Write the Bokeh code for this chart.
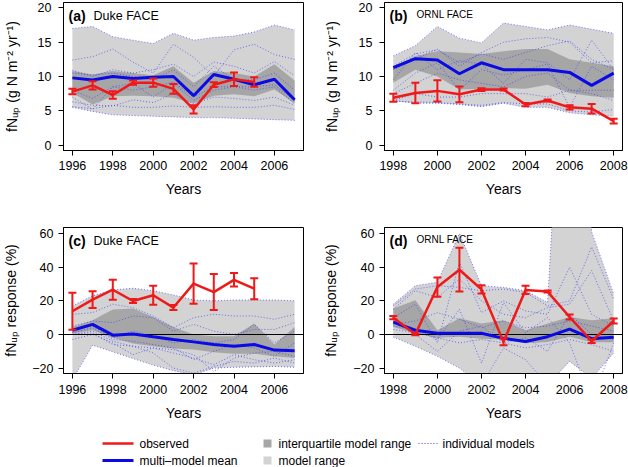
from bokeh.plotting import figure
from bokeh.layouts import column, row
from bokeh.models import Range1d, FixedTicker, Label
from bokeh.core.properties import value
from bokeh.embed import file_html
from bokeh.resources import INLINE

# ---------------- data ----------------
years_duke = [1996, 1997, 1998, 1999, 2000, 2001, 2002, 2003, 2004, 2005, 2006, 2007]
years_ornl = [1998, 1999, 2000, 2001, 2002, 2003, 2004, 2005, 2006, 2007, 2008]
obs_years_duke = [1996, 1997, 1998, 1999, 2000, 2001, 2002, 2003, 2004, 2005]
obs_years_ornl = years_ornl

ticks_duke = [1996, 1998, 2000, 2002, 2004, 2006]
ticks_ornl = [1998, 2000, 2002, 2004, 2006, 2008]
ticks_abs = [0, 5, 10, 15, 20]
ticks_resp = [-20, 0, 20, 40, 60]

# (a) Duke FACE, fNup
a_obs = [7.8, 8.7, 7.3, 9.1, 9.1, 8.2, 5.2, 8.8, 9.6, 9.2]
a_err = [0.4, 0.6, 0.55, 0.3, 0.6, 0.7, 0.6, 0.35, 1.0, 0.7]
a_mean = [9.8, 9.5, 10.0, 9.7, 9.9, 10.0, 7.2, 10.3, 9.6, 8.8, 9.6, 6.6]
a_iqr_lo = [7.6, 5.9, 7.1, 7.2, 7.1, 6.9, 6.1, 7.2, 7.4, 7.1, 8.1, 6.1]
a_iqr_hi = [10.8, 10.3, 10.8, 10.5, 10.2, 11.5, 9.1, 10.8, 10.5, 10.0, 11.8, 9.4]
a_rng_lo = [5.5, 4.9, 4.4, 4.3, 4.2, 4.1, 4.0, 4.0, 3.9, 3.8, 3.7, 3.6]
a_rng_hi = [17.0, 17.3, 15.8, 15.3, 14.8, 16.3, 15.3, 15.7, 15.9, 16.5, 17.5, 16.8]
a_m1 = [17.0, 17.3, 15.8, 15.3, 14.8, 16.3, 15.3, 15.7, 15.9, 16.5, 17.5, 16.8]
a_m2 = [12.4, 12.9, 14.0, 12.1, 10.5, 14.7, 12.8, 10.0, 13.9, 14.7, 13.2, 12.5]
a_m3 = [10.9, 10.0, 11.0, 10.5, 11.0, 11.8, 10.0, 12.1, 11.5, 10.5, 12.2, 10.1]
a_m4 = [10.5, 10.2, 10.5, 10.0, 9.5, 11.0, 8.5, 11.5, 9.5, 9.5, 10.5, 8.0]
a_m5 = [8.0, 6.8, 8.5, 8.0, 8.5, 9.2, 7.0, 8.5, 8.5, 8.0, 8.5, 6.0]
a_m6 = [7.0, 5.2, 8.5, 9.0, 7.0, 9.0, 6.5, 8.0, 8.5, 8.5, 8.8, 6.5]
a_m7 = [6.3, 5.8, 5.7, 6.6, 6.2, 7.5, 6.0, 7.0, 6.8, 6.5, 7.0, 5.8]
a_m8 = [5.6, 5.3, 5.8, 5.5, 5.5, 5.7, 5.5, 5.6, 5.5, 5.5, 5.8, 5.2]
a_m9 = [5.5, 4.9, 4.4, 4.3, 4.2, 4.1, 4.0, 4.0, 3.9, 3.8, 3.7, 3.6]

# (b) ORNL FACE, fNup
b_obs = [6.9, 7.6, 7.9, 7.4, 8.1, 8.1, 5.9, 6.5, 5.5, 5.3, 3.5]
b_err = [0.6, 1.5, 1.55, 1.15, 0.2, 0.15, 0.25, 0.15, 0.3, 0.7, 0.35]
b_mean = [11.3, 12.6, 12.4, 10.4, 12.0, 11.0, 11.0, 11.0, 10.6, 8.7, 10.5]
b_iqr_lo = [9.1, 11.0, 10.0, 8.1, 8.2, 8.3, 8.2, 8.8, 7.6, 7.1, 6.9]
b_iqr_hi = [11.5, 13.0, 13.7, 13.5, 13.3, 13.7, 14.0, 14.0, 12.5, 12.0, 11.5]
b_rng_lo = [6.4, 6.1, 6.1, 5.9, 5.6, 6.1, 5.5, 5.5, 4.7, 4.4, 4.2]
b_rng_hi = [13.0, 14.5, 17.3, 15.6, 14.9, 17.8, 17.3, 16.8, 17.5, 16.9, 16.3]
b_m1 = [13.0, 14.5, 17.3, 15.6, 14.9, 17.8, 17.3, 16.8, 17.5, 16.9, 16.3]
b_m2 = [11.5, 13.3, 13.9, 12.0, 13.3, 12.5, 13.5, 14.5, 15.2, 12.5, 11.0]
b_m3 = [11.0, 12.5, 14.0, 11.5, 13.5, 15.0, 15.5, 15.7, 15.0, 12.0, 12.3]
b_m4 = [9.5, 13.5, 11.0, 12.3, 11.8, 9.0, 12.5, 12.0, 9.5, 15.3, 11.0]
b_m5 = [8.0, 10.5, 12.0, 8.0, 11.0, 10.2, 11.0, 11.8, 5.5, 11.5, 9.5]
b_m6 = [7.5, 9.0, 10.5, 9.5, 9.0, 8.5, 10.0, 10.5, 8.0, 8.0, 8.0]
b_m7 = [6.5, 7.5, 7.0, 7.0, 7.5, 7.5, 7.5, 7.0, 8.0, 7.5, 6.5]
b_m8 = [6.4, 6.3, 6.2, 6.0, 5.8, 6.2, 6.0, 6.0, 5.0, 4.8, 5.2]
b_m9 = [6.5, 6.1, 6.1, 5.9, 5.6, 6.1, 5.5, 5.5, 4.7, 4.4, 4.2]

# (c) Duke FACE, fNup response (%)
c_obs = [13.8, 20.7, 26.6, 19.9, 23.3, 16.0, 30.2, 25.2, 32.5, 27.2]
c_err = [11.0, 5.0, 6.0, 1.2, 5.7, 1.5, 12.0, 10.7, 4.0, 6.2]
c_mean = [2.5, 6.0, -0.4, 0.3, -1.4, -3.0, -4.4, -6.0, -7.0, -6.0, -9.3, -9.7]
c_iqr_lo = [0.5, 2.5, -2.0, -5.4, -7.0, -8.4, -9.0, -10.5, -11.5, -11.5, -13.0, -14.0]
c_iqr_hi = [4.5, 8.4, 14.8, 15.4, 10.4, 4.5, 0.0, -1.0, -1.0, 6.5, -6.0, 4.5]
c_rng_lo = [-27.0, -6.4, -10.3, -14.3, -18.2, -21.5, -24.0, -20.0, -19.5, -19.3, -19.0, -19.5]
c_rng_hi = [17.0, 23.0, 26.5, 27.5, 26.0, 23.5, 20.5, 20.0, 20.5, 20.5, 20.5, 20.0]
c_m1 = [17.0, 23.0, 26.5, 27.5, 26.0, 23.5, 20.5, 20.0, 20.5, 20.5, 20.5, 20.0]
c_m2 = [12.0, 13.0, 18.0, 16.0, 11.0, 4.0, 10.0, 12.0, 11.0, 11.0, 9.0, 12.0]
c_m3 = [5.0, 8.0, 7.0, 11.0, 10.0, 2.0, 6.0, 2.0, 0.0, 3.0, 3.0, 7.0]
c_m4 = [3.0, 5.0, -2.0, 2.0, -1.0, -5.0, -3.0, -5.0, -3.0, 6.0, -5.0, 2.0]
c_m5 = [1.0, 4.0, -3.0, -4.0, -6.0, -8.0, -15.0, -10.0, -6.0, -8.0, -13.0, -5.0]
c_m6 = [0.0, 2.0, -4.0, -7.0, -8.0, -9.0, -12.0, -22.0, -14.0, -11.0, -10.0, -13.0]
c_m7 = [-3.0, 0.0, -5.0, -12.0, -8.0, -11.0, -14.0, -18.0, -12.0, -15.0, -17.0, -15.0]
c_m8 = [-27.0, -6.4, -10.3, -14.3, -18.2, -21.5, -24.0, -20.0, -19.5, -19.3, -19.0, -19.5]
c_m9 = [0.0, 1.0, -6.0, -7.0, -11.0, -20.0, -23.0, -19.0, -16.0, -17.0, -14.0, -17.0]

# (d) ORNL FACE, fNup response (%)
d_obs = [10.0, 0.1, 28.2, 38.5, 26.8, -4.4, 26.5, 25.5, 10.4, -4.0, 8.0]
d_err = [1.0, 0.5, 5.7, 13.0, 2.5, 2.0, 2.5, 0.6, 1.5, 1.0, 1.5]
d_mean = [7.4, 2.5, 0.7, 0.7, 0.7, -2.3, -4.2, -1.3, 3.2, -2.5, -1.6]
d_iqr_lo = [4.5, 0.7, -2.0, -1.4, -2.5, -3.0, -5.2, -4.5, -1.3, -4.6, -4.6]
d_iqr_hi = [15.5, 20.3, 2.5, 9.6, 6.6, 8.4, 2.5, 6.5, 10.4, 8.4, 9.6]
d_rng_lo = [-1.5, -7.0, -13.0, -20.0, -30.0, -30.0, -30.0, -30.0, -16.0, -26.0, -11.0]
d_rng_hi = [18.0, 29.0, 31.0, 60.0, 29.0, 28.0, 26.0, 19.0, 250.0, 61.0, 24.0]
d_m1 = [18.0, 29.0, 31.0, 60.0, 29.0, 28.0, 26.0, 19.0, 250.0, 61.0, 24.0]
d_m2 = [17.0, 27.0, 29.0, 28.0, 26.0, 27.0, 25.0, 17.0, 20.0, 52.0, 21.0]
d_m3 = [15.0, 26.0, 22.0, 33.0, 20.0, 12.0, 10.0, 16.0, 18.0, 38.0, 8.0]
d_m4 = [10.0, 18.0, -5.0, 43.0, 13.0, 20.0, 14.0, 12.0, 40.0, 12.0, 5.0]
d_m5 = [6.0, 8.0, 13.0, 9.0, 4.0, 8.0, 4.0, 5.0, 8.0, 5.0, 2.0]
d_m6 = [5.0, 3.0, -3.0, 15.0, -17.0, 19.0, 1.0, 10.0, -5.0, -40.0, -5.0]
d_m7 = [3.0, 1.0, -2.0, -5.0, -3.0, -5.0, -8.0, -6.0, -3.0, -6.0, -10.0]
d_m8 = [-1.5, -7.0, -13.0, -20.0, -30.0, -8.0, -15.0, -30.0, -16.0, -26.0, -11.0]
d_m9 = [8.0, 0.0, -10.0, 2.0, 5.0, -5.0, -2.0, -10.0, 12.0, 0.0, -3.0]

legend_labels = ["observed", "multi\u2013model mean", "interquartile model range",
                 "model range", "individual models"]

# ---------------- styles ----------------
FONT = "Liberation Sans"
RED = "#f01818"
BLUE = "#0a0ae6"
LIGHT = "#d3d3d3"
DARK = "#a6a6a6"
MODEL = "#4040ff"

YLAB_ABS = "fN\u1d64\u209a (g N m\u207b\u00b2 yr\u207b\u00b9)"
YLAB_RESP = "fN\u1d64\u209a response (%)"


def make_fig(width, height, xr, yr, mbl, mbr, mbt, mbb):
    p = figure(width=width, height=height, x_range=Range1d(*xr), y_range=Range1d(*yr),
               output_backend="svg", toolbar_location=None,
               min_border_left=mbl, min_border_right=mbr,
               min_border_top=mbt, min_border_bottom=mbb)
    p.grid.visible = False
    p.outline_line_color = "black"
    p.outline_line_width = 1
    p.outline_line_alpha = 1
    p.background_fill_color = "white"
    p.border_fill_color = "white"
    for ax in p.axis:
        ax.axis_line_color = "black"
        ax.major_tick_line_color = "black"
        ax.major_tick_in = 0
        ax.major_tick_out = 5
        ax.minor_tick_line_color = None
        ax.major_label_text_font = FONT
        ax.major_label_text_font_size = "12.5px"
        ax.major_label_text_color = "black"
        ax.axis_label_text_font = FONT
        ax.axis_label_text_font_size = "14px"
        ax.axis_label_text_font_style = "normal"
        ax.axis_label_text_color = "black"
    return p


def draw_panel(p, yrs, rlo, rhi, ilo, ihi, models, mean, oyrs, obs, err, zero):
    p.varea(x=yrs, y1=rlo, y2=rhi, fill_color=LIGHT)
    p.varea(x=yrs, y1=ilo, y2=ihi, fill_color=DARK)
    p.multi_line(xs=[yrs] * len(models), ys=models, line_color=MODEL,
                 line_width=0.9, line_alpha=0.8, line_dash=value("1 2"))
    if zero:
        p.hspan(y=[0], line_color="black", line_width=1)
    p.line(yrs, mean, line_color=BLUE, line_width=3)
    p.line(oyrs, obs, line_color=RED, line_width=2.5)
    lo = [o - e for o, e in zip(obs, err)]
    hi = [o + e for o, e in zip(obs, err)]
    p.segment(x0=oyrs, y0=lo, x1=oyrs, y1=hi, line_color=RED, line_width=2)
    p.scatter(x=list(oyrs) + list(oyrs), y=lo + hi, marker="dash", size=8,
              line_color=RED, line_width=2)


def panel_label(p, letter, site, site_size, site_dx):
    p.add_layout(Label(x=p.x_range.start, y=p.y_range.end, x_offset=5, y_offset=-5,
                       text=letter, text_font=FONT, text_font_style="bold",
                       text_font_size="14px", text_baseline="top", text_color="black"))
    p.add_layout(Label(x=p.x_range.start, y=p.y_range.end, x_offset=site_dx, y_offset=-6,
                       text=site, text_font=FONT, text_font_size=site_size,
                       text_baseline="top", text_color="black"))


XR_DUKE = (1995.56, 2007.44)
XR_ORNL = (1997.6, 2008.4)
YR_ABS = (-0.8, 20.8)
YR_RESP = (-23.2, 63.6)

# (a)
pa = make_fig(320, 205, XR_DUKE, YR_ABS, 62, 17, 2, 55)
draw_panel(pa, years_duke, a_rng_lo, a_rng_hi, a_iqr_lo, a_iqr_hi,
           [a_m1, a_m2, a_m3, a_m4, a_m5, a_m6, a_m7, a_m8, a_m9],
           a_mean, obs_years_duke, a_obs, a_err, False)
pa.xaxis.ticker = FixedTicker(ticks=ticks_duke)
pa.yaxis.ticker = FixedTicker(ticks=ticks_abs)
pa.xaxis.axis_label = "Years"
pa.yaxis.axis_label = YLAB_ABS
pa.xaxis.major_label_standoff = 5
pa.xaxis.axis_label_standoff = 8
pa.yaxis.major_label_standoff = 7
pa.yaxis.axis_label_standoff = 15
panel_label(pa, "(a)", "Duke FACE", "12.5px", 30)

# (b)
pb = make_fig(308, 205, XR_ORNL, YR_ABS, 63, 6, 2, 55)
draw_panel(pb, years_ornl, b_rng_lo, b_rng_hi, b_iqr_lo, b_iqr_hi,
           [b_m1, b_m2, b_m3, b_m4, b_m5, b_m6, b_m7, b_m8, b_m9],
           b_mean, obs_years_ornl, b_obs, b_err, False)
pb.xaxis.ticker = FixedTicker(ticks=ticks_ornl)
pb.yaxis.ticker = FixedTicker(ticks=ticks_abs)
pb.xaxis.axis_label = "Years"
pb.yaxis.axis_label = YLAB_ABS
pb.xaxis.major_label_standoff = 5
pb.xaxis.axis_label_standoff = 8
pb.yaxis.major_label_standoff = 7
pb.yaxis.axis_label_standoff = 16
panel_label(pb, "(b)", "ORNL FACE", "10px", 32)

# (c)
pc = make_fig(320, 220, XR_DUKE, YR_RESP, 62, 17, 22, 52)
draw_panel(pc, years_duke, c_rng_lo, c_rng_hi, c_iqr_lo, c_iqr_hi,
           [c_m1, c_m2, c_m3, c_m4, c_m5, c_m6, c_m7, c_m8, c_m9],
           c_mean, obs_years_duke, c_obs, c_err, True)
pc.xaxis.ticker = FixedTicker(ticks=ticks_duke)
pc.yaxis.ticker = FixedTicker(ticks=ticks_resp)
pc.yaxis.major_label_overrides = {-20: "\u221220"}
pc.xaxis.axis_label = "Years"
pc.yaxis.axis_label = YLAB_RESP
pc.xaxis.major_label_standoff = 6
pc.xaxis.axis_label_standoff = 8
pc.yaxis.major_label_standoff = 5
pc.yaxis.axis_label_standoff = 10
panel_label(pc, "(c)", "Duke FACE", "12.5px", 30)

# (d)
pd_ = make_fig(308, 220, XR_ORNL, YR_RESP, 63, 6, 22, 52)
draw_panel(pd_, years_ornl, d_rng_lo, d_rng_hi, d_iqr_lo, d_iqr_hi,
           [d_m1, d_m2, d_m3, d_m4, d_m5, d_m6, d_m7, d_m8, d_m9],
           d_mean, obs_years_ornl, d_obs, d_err, True)
pd_.xaxis.ticker = FixedTicker(ticks=ticks_ornl)
pd_.yaxis.ticker = FixedTicker(ticks=ticks_resp)
pd_.yaxis.major_label_overrides = {-20: "\u221220"}
pd_.xaxis.axis_label = "Years"
pd_.yaxis.axis_label = YLAB_RESP
pd_.xaxis.major_label_standoff = 6
pd_.xaxis.axis_label_standoff = 8
pd_.yaxis.major_label_standoff = 5
pd_.yaxis.axis_label_standoff = 11
panel_label(pd_, "(d)", "ORNL FACE", "10px", 32)

# ---------------- legend ----------------
LW, LH = 628, 42
pl = figure(width=LW, height=LH, x_range=Range1d(0, LW), y_range=Range1d(0, LH),
            output_backend="svg", toolbar_location=None, x_axis_type=None, y_axis_type=None,
            min_border=0, min_border_left=0, min_border_right=0, min_border_top=0,
            min_border_bottom=0)
pl.grid.visible = False
pl.outline_line_color = None
row1_y, row2_y = 24, 7
pl.line([102, 133], [row1_y, row1_y], line_color=RED, line_width=2.5)
pl.line([102, 133], [row2_y, row2_y], line_color=BLUE, line_width=3)
pl.rect(x=[267, 267], y=[row1_y, row2_y], width=8, height=8,
        fill_color=[DARK, LIGHT], line_color=None)
pl.line([418, 437], [row1_y, row1_y], line_color=MODEL, line_width=1, line_dash="1 2")
pl.text(x=[139, 139, 278, 278, 442], y=[row1_y, row2_y, row1_y, row2_y, row1_y],
        text=legend_labels, text_font=value(FONT), text_font_size=value("12px"),
        text_baseline="middle", text_color="black")

layout = column(row(pa, pb), row(pc, pd_), pl)

open("out.html", "w").write(file_html(layout, INLINE))
